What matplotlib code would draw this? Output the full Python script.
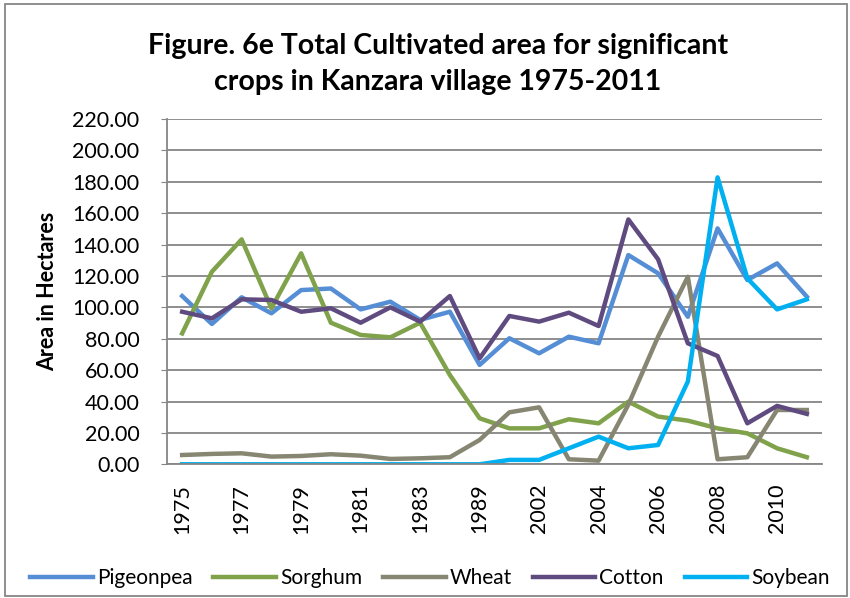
import matplotlib.pyplot as plt
from matplotlib.patches import Rectangle

# Years (only every other one is labelled on the axis)
years = ['1975', '1976', '1977', '1978', '1979', '1980', '1981', '1982', '1983', '1984',
         '1989', '2001', '2002', '2003', '2004', '2005', '2006', '2007', '2008', '2009',
         '2010', '2011']

# Area in hectares
pigeonpea = [107.2, 89.4, 106.4, 96.2, 111.0, 112.0, 98.7, 103.6, 92.0, 97.2,
             63.3, 80.3, 70.7, 81.3, 77.1, 133.3, 121.7, 94.0, 150.3, 117.4, 128.0, 106.8]
sorghum = [83.4, 122.7, 143.3, 99.4, 134.4, 90.2, 82.4, 80.9, 90.2, 56.9,
           29.3, 22.9, 22.9, 28.7, 26.1, 39.9, 30.4, 27.8, 22.9, 19.7, 10.2, 4.5]
wheat = [5.9, 6.6, 7.0, 4.9, 5.3, 6.4, 5.5, 3.4, 3.8, 4.5,
         15.5, 33.1, 36.3, 3.2, 2.3, 38.0, 81.3, 119.5, 3.2, 4.5, 34.6, 34.6]
cotton = [97.2, 93.0, 105.1, 104.7, 97.2, 99.4, 90.2, 100.0, 90.9, 107.2,
          67.5, 94.5, 90.9, 96.6, 88.1, 156.0, 130.6, 77.1, 69.0, 26.1, 37.2, 32.1]
soybean = [0, 0, 0, 0, 0, 0, 0, 0, 0, 0,
           0, 2.8, 2.8, 10.2, 17.6, 10.2, 12.3, 52.7, 182.8, 118.5, 98.7, 105.1]

series = [('Pigeonpea', pigeonpea, '#558ED5'),
          ('Sorghum', sorghum, '#7FA24A'),
          ('Wheat', wheat, '#868672'),
          ('Cotton', cotton, '#5F4B7F'),
          ('Soybean', soybean, '#00B0F0')]

plt.rcParams['font.family'] = ['Lato', 'DejaVu Sans']

fig = plt.figure(figsize=(8.5, 5.98), dpi=100)
ax = fig.add_axes([0.1968, 0.2236, 0.7699, 0.5774])

x = range(len(years))
for name, vals, col in series:
    ax.plot(x, vals, color=col, lw=3.2, label=name)

ax.set_xlim(-0.5, len(years) - 0.5)
ax.set_ylim(0, 220)
ax.set_yticks(range(0, 221, 20))
ax.set_yticklabels(['%.2f' % v for v in range(0, 221, 20)], fontsize=15.5)
ax.set_xticks(list(x)[::2])
ax.set_xticklabels(years[::2], rotation=90, fontsize=15.5)
ax.tick_params(axis='x', length=0, pad=14)
ax.tick_params(axis='y', length=4, color='#868686', pad=16)
ax.grid(axis='y', color='#868686', lw=1.3)
ax.set_axisbelow(True)
for s in ['top', 'right']:
    ax.spines[s].set_visible(False)
for s in ['left', 'bottom']:
    ax.spines[s].set_color('#868686')
    ax.spines[s].set_linewidth(1.3)

ax.set_ylabel('Area in Hectares', fontsize=15.5, fontweight='bold', labelpad=10)

fig.text(0.515, 0.893, 'Figure. 6e Total Cultivated area for significant\ncrops in Kanzara village 1975-2011',
         ha='center', va='center', fontsize=20.5, fontweight='bold', linespacing=1.45)

fig.legend(loc='center', bbox_to_anchor=(0.506, 0.033), ncol=5, frameon=False,
           fontsize=15, handlelength=3.0, handletextpad=0.2, columnspacing=1.0)

fig.patches.append(Rectangle((0.006, 0.004), 0.99, 0.99, transform=fig.transFigure,
                             fill=False, edgecolor='#868686', lw=1.3))

fig.savefig('out.png', dpi=100)
